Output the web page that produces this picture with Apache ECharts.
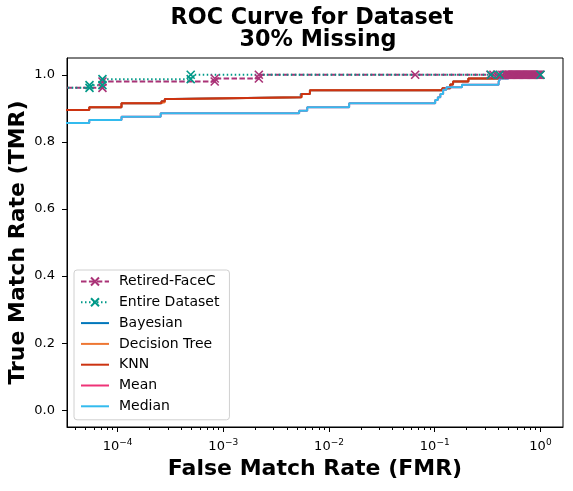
<!DOCTYPE html>
<html><head><meta charset="utf-8">
<script src="https://cdn.jsdelivr.net/npm/echarts@6/dist/echarts.min.js"></script>
<style>html,body{margin:0;padding:0;background:#fff}#c{width:573px;height:491px}</style>
</head><body><div id="c"></div>
<script>
// ---- data (FMR, TMR) ----
const retiredFMR = [1e-5, 7.2e-5, 7.2e-5, 8.3e-4, 8.3e-4, 2.17e-3, 2.17e-3, 0.0653, 0.336, 0.359, 0.391, 0.436,
  0.465, 0.474, 0.483, 0.492, 0.501, 0.511, 0.521, 0.531, 0.541, 0.551, 0.562, 0.573, 0.584, 0.595, 0.607, 0.619,
  0.631, 0.643, 0.655, 0.668, 0.681, 0.694, 0.707, 0.721, 0.735, 0.749, 0.764, 0.779, 0.794, 0.809, 0.825, 0.841,
  0.857, 0.874, 0.891, 0.908, 0.926, 0.944, 0.962, 0.981, 1.0];
const retiredTMR = [0.961, 0.961, 0.980, 0.980, 0.989, 0.989, 1.0, 1.0, 1.0, 1.0, 1.0, 1.0,
  1.0, 1.0, 1.0, 1.0, 1.0, 1.0, 1.0, 1.0, 1.0, 1.0, 1.0, 1.0, 1.0, 1.0, 1.0, 1.0,
  1.0, 1.0, 1.0, 1.0, 1.0, 1.0, 1.0, 1.0, 1.0, 1.0, 1.0, 1.0, 1.0, 1.0, 1.0, 1.0,
  1.0, 1.0, 1.0, 1.0, 1.0, 1.0, 1.0, 1.0, 1.0];
const entireFMR = [1e-5, 5.43e-5, 5.43e-5, 7.2e-5, 7.2e-5, 4.92e-4, 4.92e-4, 0.34, 0.41, 1.0];
const entireTMR = [0.961, 0.961, 0.969, 0.969, 0.987, 0.987, 1.0, 1.0, 1.0, 1.0];
const bayesFMR = [1e-5, 5.4e-5, 1.09e-4, 2.6e-4, 2.8e-4, 3.3e-4, 5.4e-3, 6.6e-3, 0.118, 0.140, 0.149, 0.208, 0.40, 0.466, 1.0];
const bayesTMR = [0.895, 0.903, 0.915, 0.921, 0.928, 0.933, 0.943, 0.954, 0.960, 0.971, 0.980, 0.989, 0.995, 1.0, 1.0];
const dtFMR = [1e-5, 5.4e-5, 1.09e-4, 2.5e-4, 2.8e-4, 4.0e-4, 5.5e-3, 6.6e-3, 0.118, 0.140, 0.149, 0.208, 0.40, 0.466, 1.0];
const dtTMR = [0.895, 0.903, 0.915, 0.918, 0.928, 0.933, 0.943, 0.954, 0.960, 0.971, 0.980, 0.989, 0.995, 1.0, 1.0];
const knnFMR = [1e-5, 5.4e-5, 1.09e-4, 2.6e-4, 2.8e-4, 3.4e-4, 5.5e-3, 6.6e-3, 0.118, 0.140, 0.149, 0.208, 0.40, 0.466, 1.0];
const knnTMR = [0.895, 0.903, 0.915, 0.921, 0.928, 0.933, 0.943, 0.954, 0.960, 0.971, 0.980, 0.989, 0.995, 1.0, 1.0];
const meanFMR = [1e-5, 5.4e-5, 1.09e-4, 2.56e-4, 5.22e-3, 6.22e-3, 0.0155, 0.101, 0.107, 0.113, 0.120, 0.129, 0.181, 0.402, 0.417, 0.497, 1.0];
const meanTMR = [0.856, 0.865, 0.875, 0.885, 0.893, 0.903, 0.915, 0.925, 0.933, 0.943, 0.955, 0.963, 0.970, 0.979, 0.989, 1.0, 1.0];
const medianFMR = [1e-5, 5.4e-5, 1.09e-4, 2.56e-4, 5.22e-3, 6.22e-3, 0.0155, 0.101, 0.107, 0.113, 0.120, 0.129, 0.181, 0.402, 0.417, 0.497, 1.0];
const medianTMR = [0.856, 0.865, 0.875, 0.885, 0.893, 0.903, 0.915, 0.925, 0.933, 0.943, 0.955, 0.963, 0.970, 0.979, 0.989, 1.0, 1.0];

const xExponents = [-4, -3, -2, -1, 0];          // x tick labels 10^n
const yTicks = [0.0, 0.2, 0.4, 0.6, 0.8, 1.0];
const xLogMin = -4.478, xLogMax = 0.213;         // axis limits (log10 FMR)
const yMin = -0.05, yMax = 1.05;

// ---- build ----
const FONT = 'DejaVu Sans';
const toPts = (xs, ys) => xs.map((x, i) => [Math.log10(x), ys[i]]);
const minorTicks = [];
for (let n = -5; n <= 0; n++) for (let k = 2; k <= 9; k++) {
  const v = n + Math.log10(k);
  if (v > xLogMin && v < xLogMax) minorTicks.push(v);
}
const X = 'path://M0,0L10,10M10,0L0,10';
const LINE_ICON = 'path://M0,0L0,0M0,4H28V6H0ZM28,10L28,10';

function stepSeries(name, xs, ys, color) {
  return { type: 'line', name, data: toPts(xs, ys), step: 'end', symbol: 'none',
    lineStyle: { color, width: 2 }, itemStyle: { color }, clip: true,
    emphasis: { disabled: true }, animation: false };
}
function markerSeries(name, xs, ys, color, dash) {
  return { type: 'line', name, data: toPts(xs, ys), symbol: X, symbolSize: 8,
    lineStyle: { color, width: 2, type: dash, cap: 'butt' },
    itemStyle: { color, borderColor: color, borderWidth: 1.6 }, clip: true,
    emphasis: { disabled: true }, animation: false };
}
const titleStyle = { fontFamily: FONT, fontSize: 22.3, fontWeight: 'bold', color: '#000', lineHeight: 22 };

const chart = echarts.init(document.getElementById('c'), null, { renderer: 'canvas' });
chart.setOption({
  backgroundColor: '#fff',
  animation: false,
  textStyle: { fontFamily: FONT },
  title: [
    { text: 'ROC Curve for Dataset', left: 312, top: 7, padding: 0, textAlign: 'center', textStyle: titleStyle },
    { text: '30% Missing', left: 318, top: 29, padding: 0, textAlign: 'center', textStyle: titleStyle }
  ],
  grid: { left: 67, right: 10, top: 58, bottom: 64, outerBoundsMode: 'none', containLabel: false,
    show: true, borderColor: '#000', borderWidth: 1, backgroundColor: 'transparent' },
  legend: {
    orient: 'vertical', left: 74, top: 270, padding: [4, 10, 6, 6],
    itemWidth: 28, itemHeight: 10, itemGap: 5.8,
    borderColor: '#d0d0d0', borderWidth: 1, borderRadius: 3, backgroundColor: 'rgba(255,255,255,0.8)',
    textStyle: { fontFamily: FONT, fontSize: 14, color: '#000', lineHeight: 15, padding: [0, 0, 0, 5] },
    data: [
      { name: 'Retired-FaceC' },
      { name: 'Entire Dataset' },
      { name: 'Bayesian', icon: LINE_ICON },
      { name: 'Decision Tree', icon: LINE_ICON },
      { name: 'KNN', icon: LINE_ICON },
      { name: 'Mean', icon: LINE_ICON },
      { name: 'Median', icon: LINE_ICON }
    ]
  },
  xAxis: [{
    type: 'value', min: xLogMin, max: xLogMax, position: 'bottom',
    name: 'False Match Rate (FMR)', nameLocation: 'middle', nameGap: 31, nameMoveOverlap: false,
    nameTextStyle: { fontFamily: FONT, fontSize: 22, fontWeight: 'bold', color: '#000' },
    axisLine: { onZero: false, lineStyle: { color: '#000', width: 1 } },
    splitLine: { show: false },
    axisTick: { customValues: xExponents, length: 5, lineStyle: { color: '#000' } },
    axisLabel: {
      customValues: xExponents, margin: 11, color: '#000', fontSize: 13, fontFamily: FONT,
      formatter: v => '10{s|' + (Math.round(v) === 0 ? '0' : '\u2212' + Math.abs(Math.round(v))) + '}',
      rich: { s: { fontSize: 9, fontFamily: FONT, color: '#000', padding: [0, 0, 9, 0] } }
    }
  }, {
    type: 'value', min: xLogMin, max: xLogMax, position: 'bottom',
    axisLine: { show: false, onZero: false }, splitLine: { show: false }, axisLabel: { show: false },
    axisTick: { customValues: minorTicks, length: 3, lineStyle: { color: '#000' } }
  }],
  yAxis: {
    type: 'value', min: yMin, max: yMax,
    name: 'True Match Rate (TMR)', nameLocation: 'middle', nameGap: 38, nameMoveOverlap: false,
    nameTextStyle: { fontFamily: FONT, fontSize: 22, fontWeight: 'bold', color: '#000' },
    axisLine: { show: true, onZero: false, lineStyle: { color: '#000', width: 1 } },
    splitLine: { show: false },
    axisTick: { show: true, customValues: yTicks, length: 5, lineStyle: { color: '#000' } },
    axisLabel: { customValues: yTicks, margin: 12, color: '#000', fontSize: 13, fontFamily: FONT, formatter: v => v.toFixed(1) }
  },
  series: [
    markerSeries('Retired-FaceC', retiredFMR, retiredTMR, '#AA3377', [5.5, 2.4]),
    markerSeries('Entire Dataset', entireFMR, entireTMR, '#009988', [1.5, 2.5]),
    stepSeries('Bayesian', bayesFMR, bayesTMR, '#0077BB'),
    stepSeries('Decision Tree', dtFMR, dtTMR, '#EE7733'),
    stepSeries('KNN', knnFMR, knnTMR, '#CC3311'),
    stepSeries('Mean', meanFMR, meanTMR, '#EE3377'),
    stepSeries('Median', medianFMR, medianTMR, '#33BBEE')
  ]
});
</script></body></html>
